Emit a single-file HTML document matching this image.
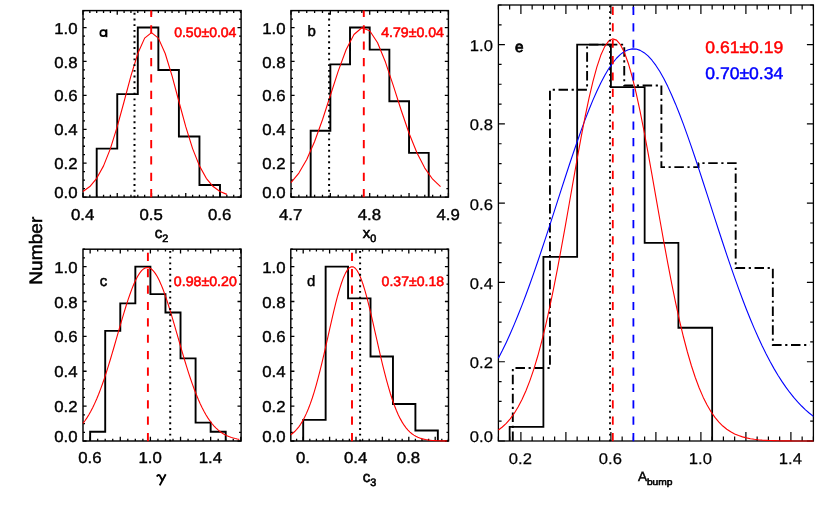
<!DOCTYPE html>
<html><head><meta charset="utf-8"><title>Histograms</title>
<style>html,body{margin:0;padding:0;background:#fff}svg{display:block;will-change:transform}text{text-rendering:geometricPrecision}</style></head>
<body>
<svg width="830" height="519" viewBox="0 0 830 519">
<rect width="830" height="519" fill="#fff"/>
<path d="M83 197.1v-4.2M83 10.6v4.2M89.85 197.1v-2.3M89.85 10.6v2.3M96.7 197.1v-2.3M96.7 10.6v2.3M103.55 197.1v-2.3M103.55 10.6v2.3M110.4 197.1v-2.3M110.4 10.6v2.3M117.25 197.1v-4.2M117.25 10.6v4.2M124.1 197.1v-2.3M124.1 10.6v2.3M130.95 197.1v-2.3M130.95 10.6v2.3M137.8 197.1v-2.3M137.8 10.6v2.3M144.65 197.1v-2.3M144.65 10.6v2.3M151.5 197.1v-4.2M151.5 10.6v4.2M158.35 197.1v-2.3M158.35 10.6v2.3M165.2 197.1v-2.3M165.2 10.6v2.3M172.05 197.1v-2.3M172.05 10.6v2.3M178.9 197.1v-2.3M178.9 10.6v2.3M185.75 197.1v-4.2M185.75 10.6v4.2M192.6 197.1v-2.3M192.6 10.6v2.3M199.45 197.1v-2.3M199.45 10.6v2.3M206.3 197.1v-2.3M206.3 10.6v2.3M213.15 197.1v-2.3M213.15 10.6v2.3M220 197.1v-4.2M220 10.6v4.2M226.85 197.1v-2.3M226.85 10.6v2.3M233.7 197.1v-2.3M233.7 10.6v2.3M240.55 197.1v-2.3M240.55 10.6v2.3M83 197.1h3.6M241.1 197.1h-3.6M83 188.62h2.0M241.1 188.62h-2.0M83 180.15h2.0M241.1 180.15h-2.0M83 171.67h2.0M241.1 171.67h-2.0M83 163.19h3.6M241.1 163.19h-3.6M83 154.71h2.0M241.1 154.71h-2.0M83 146.24h2.0M241.1 146.24h-2.0M83 137.76h2.0M241.1 137.76h-2.0M83 129.28h3.6M241.1 129.28h-3.6M83 120.8h2.0M241.1 120.8h-2.0M83 112.33h2.0M241.1 112.33h-2.0M83 103.85h2.0M241.1 103.85h-2.0M83 95.37h3.6M241.1 95.37h-3.6M83 86.9h2.0M241.1 86.9h-2.0M83 78.42h2.0M241.1 78.42h-2.0M83 69.94h2.0M241.1 69.94h-2.0M83 61.46h3.6M241.1 61.46h-3.6M83 52.99h2.0M241.1 52.99h-2.0M83 44.51h2.0M241.1 44.51h-2.0M83 36.03h2.0M241.1 36.03h-2.0M83 27.55h3.6M241.1 27.55h-3.6M83 19.08h2.0M241.1 19.08h-2.0M83 10.6h2.0M241.1 10.6h-2.0" stroke="#000" stroke-width="1.3" fill="none"/>
<rect x="83" y="10.6" width="158.1" height="186.5" fill="none" stroke="#000" stroke-width="1.45"/>
<path d="M291 197.1v-4.2M291 10.6v4.2M298.87 197.1v-2.3M298.87 10.6v2.3M306.74 197.1v-2.3M306.74 10.6v2.3M314.61 197.1v-2.3M314.61 10.6v2.3M322.48 197.1v-2.3M322.48 10.6v2.3M330.35 197.1v-4.2M330.35 10.6v4.2M338.22 197.1v-2.3M338.22 10.6v2.3M346.09 197.1v-2.3M346.09 10.6v2.3M353.96 197.1v-2.3M353.96 10.6v2.3M361.83 197.1v-2.3M361.83 10.6v2.3M369.7 197.1v-4.2M369.7 10.6v4.2M377.57 197.1v-2.3M377.57 10.6v2.3M385.44 197.1v-2.3M385.44 10.6v2.3M393.31 197.1v-2.3M393.31 10.6v2.3M401.18 197.1v-2.3M401.18 10.6v2.3M409.05 197.1v-4.2M409.05 10.6v4.2M416.92 197.1v-2.3M416.92 10.6v2.3M424.79 197.1v-2.3M424.79 10.6v2.3M432.66 197.1v-2.3M432.66 10.6v2.3M440.53 197.1v-2.3M440.53 10.6v2.3M448.4 197.1v-4.2M448.4 10.6v4.2M291 197.1h3.6M448.4 197.1h-3.6M291 188.62h2.0M448.4 188.62h-2.0M291 180.15h2.0M448.4 180.15h-2.0M291 171.67h2.0M448.4 171.67h-2.0M291 163.19h3.6M448.4 163.19h-3.6M291 154.71h2.0M448.4 154.71h-2.0M291 146.24h2.0M448.4 146.24h-2.0M291 137.76h2.0M448.4 137.76h-2.0M291 129.28h3.6M448.4 129.28h-3.6M291 120.8h2.0M448.4 120.8h-2.0M291 112.33h2.0M448.4 112.33h-2.0M291 103.85h2.0M448.4 103.85h-2.0M291 95.37h3.6M448.4 95.37h-3.6M291 86.9h2.0M448.4 86.9h-2.0M291 78.42h2.0M448.4 78.42h-2.0M291 69.94h2.0M448.4 69.94h-2.0M291 61.46h3.6M448.4 61.46h-3.6M291 52.99h2.0M448.4 52.99h-2.0M291 44.51h2.0M448.4 44.51h-2.0M291 36.03h2.0M448.4 36.03h-2.0M291 27.55h3.6M448.4 27.55h-3.6M291 19.08h2.0M448.4 19.08h-2.0M291 10.6h2.0M448.4 10.6h-2.0" stroke="#000" stroke-width="1.3" fill="none"/>
<rect x="291" y="10.6" width="157.4" height="186.5" fill="none" stroke="#000" stroke-width="1.45"/>
<path d="M90.15 441v-4.2M90.15 249.2v4.2M97.68 441v-2.3M97.68 249.2v2.3M105.21 441v-2.3M105.21 249.2v2.3M112.74 441v-2.3M112.74 249.2v2.3M120.28 441v-4.2M120.28 249.2v4.2M127.81 441v-2.3M127.81 249.2v2.3M135.34 441v-2.3M135.34 249.2v2.3M142.87 441v-2.3M142.87 249.2v2.3M150.4 441v-4.2M150.4 249.2v4.2M157.93 441v-2.3M157.93 249.2v2.3M165.46 441v-2.3M165.46 249.2v2.3M172.99 441v-2.3M172.99 249.2v2.3M180.53 441v-4.2M180.53 249.2v4.2M188.06 441v-2.3M188.06 249.2v2.3M195.59 441v-2.3M195.59 249.2v2.3M203.12 441v-2.3M203.12 249.2v2.3M210.65 441v-4.2M210.65 249.2v4.2M218.18 441v-2.3M218.18 249.2v2.3M225.71 441v-2.3M225.71 249.2v2.3M233.24 441v-2.3M233.24 249.2v2.3M240.78 441v-4.2M240.78 249.2v4.2M83 441h3.6M241.1 441h-3.6M83 432.28h2.0M241.1 432.28h-2.0M83 423.56h2.0M241.1 423.56h-2.0M83 414.85h2.0M241.1 414.85h-2.0M83 406.13h3.6M241.1 406.13h-3.6M83 397.41h2.0M241.1 397.41h-2.0M83 388.69h2.0M241.1 388.69h-2.0M83 379.97h2.0M241.1 379.97h-2.0M83 371.25h3.6M241.1 371.25h-3.6M83 362.54h2.0M241.1 362.54h-2.0M83 353.82h2.0M241.1 353.82h-2.0M83 345.1h2.0M241.1 345.1h-2.0M83 336.38h3.6M241.1 336.38h-3.6M83 327.66h2.0M241.1 327.66h-2.0M83 318.95h2.0M241.1 318.95h-2.0M83 310.23h2.0M241.1 310.23h-2.0M83 301.51h3.6M241.1 301.51h-3.6M83 292.79h2.0M241.1 292.79h-2.0M83 284.07h2.0M241.1 284.07h-2.0M83 275.35h2.0M241.1 275.35h-2.0M83 266.64h3.6M241.1 266.64h-3.6M83 257.92h2.0M241.1 257.92h-2.0M83 249.2h2.0M241.1 249.2h-2.0" stroke="#000" stroke-width="1.3" fill="none"/>
<rect x="83" y="249.2" width="158.1" height="191.8" fill="none" stroke="#000" stroke-width="1.45"/>
<path d="M296.6 441v-2.3M296.6 249.2v2.3M303.2 441v-4.2M303.2 249.2v4.2M309.8 441v-2.3M309.8 249.2v2.3M316.4 441v-2.3M316.4 249.2v2.3M323 441v-2.3M323 249.2v2.3M329.6 441v-4.2M329.6 249.2v4.2M336.2 441v-2.3M336.2 249.2v2.3M342.8 441v-2.3M342.8 249.2v2.3M349.4 441v-2.3M349.4 249.2v2.3M356 441v-4.2M356 249.2v4.2M362.6 441v-2.3M362.6 249.2v2.3M369.2 441v-2.3M369.2 249.2v2.3M375.8 441v-2.3M375.8 249.2v2.3M382.4 441v-4.2M382.4 249.2v4.2M389 441v-2.3M389 249.2v2.3M395.6 441v-2.3M395.6 249.2v2.3M402.2 441v-2.3M402.2 249.2v2.3M408.8 441v-4.2M408.8 249.2v4.2M415.4 441v-2.3M415.4 249.2v2.3M422 441v-2.3M422 249.2v2.3M428.6 441v-2.3M428.6 249.2v2.3M435.2 441v-4.2M435.2 249.2v4.2M441.8 441v-2.3M441.8 249.2v2.3M448.4 441v-2.3M448.4 249.2v2.3M290.8 441h3.6M448.5 441h-3.6M290.8 432.28h2.0M448.5 432.28h-2.0M290.8 423.56h2.0M448.5 423.56h-2.0M290.8 414.85h2.0M448.5 414.85h-2.0M290.8 406.13h3.6M448.5 406.13h-3.6M290.8 397.41h2.0M448.5 397.41h-2.0M290.8 388.69h2.0M448.5 388.69h-2.0M290.8 379.97h2.0M448.5 379.97h-2.0M290.8 371.25h3.6M448.5 371.25h-3.6M290.8 362.54h2.0M448.5 362.54h-2.0M290.8 353.82h2.0M448.5 353.82h-2.0M290.8 345.1h2.0M448.5 345.1h-2.0M290.8 336.38h3.6M448.5 336.38h-3.6M290.8 327.66h2.0M448.5 327.66h-2.0M290.8 318.95h2.0M448.5 318.95h-2.0M290.8 310.23h2.0M448.5 310.23h-2.0M290.8 301.51h3.6M448.5 301.51h-3.6M290.8 292.79h2.0M448.5 292.79h-2.0M290.8 284.07h2.0M448.5 284.07h-2.0M290.8 275.35h2.0M448.5 275.35h-2.0M290.8 266.64h3.6M448.5 266.64h-3.6M290.8 257.92h2.0M448.5 257.92h-2.0M290.8 249.2h2.0M448.5 249.2h-2.0" stroke="#000" stroke-width="1.3" fill="none"/>
<rect x="290.8" y="249.2" width="157.7" height="191.8" fill="none" stroke="#000" stroke-width="1.45"/>
<path d="M498.4 441v-4.5M498.4 5v4.5M509.65 441v-4.5M509.65 5v4.5M520.9 441v-9M520.9 5v9M532.15 441v-4.5M532.15 5v4.5M543.4 441v-4.5M543.4 5v4.5M554.65 441v-4.5M554.65 5v4.5M565.9 441v-9M565.9 5v9M577.15 441v-4.5M577.15 5v4.5M588.4 441v-4.5M588.4 5v4.5M599.65 441v-4.5M599.65 5v4.5M610.9 441v-9M610.9 5v9M622.15 441v-4.5M622.15 5v4.5M633.4 441v-4.5M633.4 5v4.5M644.65 441v-4.5M644.65 5v4.5M655.9 441v-9M655.9 5v9M667.15 441v-4.5M667.15 5v4.5M678.4 441v-4.5M678.4 5v4.5M689.65 441v-4.5M689.65 5v4.5M700.9 441v-9M700.9 5v9M712.15 441v-4.5M712.15 5v4.5M723.4 441v-4.5M723.4 5v4.5M734.65 441v-4.5M734.65 5v4.5M745.9 441v-9M745.9 5v9M757.15 441v-4.5M757.15 5v4.5M768.4 441v-4.5M768.4 5v4.5M779.65 441v-4.5M779.65 5v4.5M790.9 441v-9M790.9 5v9M802.15 441v-4.5M802.15 5v4.5M813.4 441v-4.5M813.4 5v4.5M498.4 441h6.5M813.4 441h-6.5M498.4 421.18h3.2M813.4 421.18h-3.2M498.4 401.36h3.2M813.4 401.36h-3.2M498.4 381.55h3.2M813.4 381.55h-3.2M498.4 361.73h6.5M813.4 361.73h-6.5M498.4 341.91h3.2M813.4 341.91h-3.2M498.4 322.09h3.2M813.4 322.09h-3.2M498.4 302.27h3.2M813.4 302.27h-3.2M498.4 282.45h6.5M813.4 282.45h-6.5M498.4 262.64h3.2M813.4 262.64h-3.2M498.4 242.82h3.2M813.4 242.82h-3.2M498.4 223h3.2M813.4 223h-3.2M498.4 203.18h6.5M813.4 203.18h-6.5M498.4 183.36h3.2M813.4 183.36h-3.2M498.4 163.55h3.2M813.4 163.55h-3.2M498.4 143.73h3.2M813.4 143.73h-3.2M498.4 123.91h6.5M813.4 123.91h-6.5M498.4 104.09h3.2M813.4 104.09h-3.2M498.4 84.27h3.2M813.4 84.27h-3.2M498.4 64.45h3.2M813.4 64.45h-3.2M498.4 44.64h6.5M813.4 44.64h-6.5M498.4 24.82h3.2M813.4 24.82h-3.2M498.4 5h3.2M813.4 5h-3.2" stroke="#000" stroke-width="1.2" fill="none"/>
<rect x="498.4" y="5" width="315" height="436" fill="none" stroke="#000" stroke-width="1.3"/>
<path d="M96.7 197.1L96.7 148.66L117.25 148.66L117.25 94.16L137.8 94.16L137.8 27.55L158.35 27.55L158.35 69.94L178.9 69.94L178.9 136.55L199.45 136.55L199.45 184.99L220 184.99L220 197.1" stroke="#000" stroke-width="1.9" fill="none" stroke-linejoin="miter"/>
<path d="M83 191.56L89.85 186.55L96.7 178.33L103.55 165.88L110.4 148.58L117.25 126.65L124.1 101.5L130.95 75.89L137.8 53.5L144.65 38.12L151.5 32.64L158.35 38.12L165.2 53.5L172.05 75.89L178.9 101.5L185.75 126.65L192.6 148.58L199.45 165.88L206.3 178.33L213.15 186.55L220 191.56L226.85 194.38" stroke="#ff0000" stroke-width="1.1" fill="none" stroke-linejoin="round"/>
<path d="M134.5 197.4V10.6" stroke="#000" stroke-width="2.0" stroke-dasharray="1.9 3.81" fill="none"/>
<path d="M151.2 197.3V10.6" stroke="#ff0000" stroke-width="1.9" stroke-dasharray="8.2 8.19" fill="none"/>
<path d="M310.67 197.1L310.67 130.76L330.35 130.76L330.35 64.41L350.02 64.41L350.02 27.55L369.7 27.55L369.7 49.67L389.37 49.67L389.37 101.27L409.05 101.27L409.05 152.87L428.72 152.87L428.72 197.1" stroke="#000" stroke-width="1.9" fill="none" stroke-linejoin="miter"/>
<path d="M291 182.58L298.87 173.03L306.74 159.46L314.61 141.56L322.48 119.77L330.35 95.5L338.22 71.16L346.09 49.78L353.96 34.5L361.83 27.75L369.7 30.68L377.57 42.78L385.44 62.07L393.31 85.61L401.18 110.25L409.05 133.25L416.92 152.81L424.79 168.11L432.66 179.2L440.53 186.67" stroke="#ff0000" stroke-width="1.1" fill="none" stroke-linejoin="round"/>
<path d="M329.1 197.4V10.6" stroke="#000" stroke-width="2.0" stroke-dasharray="1.9 3.81" fill="none"/>
<path d="M363.8 197.3V10.6" stroke="#ff0000" stroke-width="1.9" stroke-dasharray="8.2 8.19" fill="none"/>
<path d="M90.15 441L90.15 431.82L105.21 431.82L105.21 330.88L120.28 330.88L120.28 303.34L135.34 303.34L135.34 266.64L150.4 266.64L150.4 294.17L165.46 294.17L165.46 312.52L180.53 312.52L180.53 358.41L195.59 358.41L195.59 422.65L210.65 422.65L210.65 431.82L225.71 431.82L225.71 441" stroke="#000" stroke-width="1.9" fill="none" stroke-linejoin="miter"/>
<path d="M83 423.33L84.95 420.74L86.91 417.88L88.86 414.72L90.81 411.25L92.77 407.47L94.72 403.37L96.67 398.94L98.63 394.19L100.58 389.11L102.53 383.74L104.49 378.06L106.44 372.12L108.39 365.93L110.35 359.53L112.3 352.96L114.25 346.25L116.21 339.46L118.16 332.64L120.11 325.84L122.07 319.14L124.02 312.58L125.97 306.24L127.93 300.18L129.88 294.46L131.83 289.16L133.79 284.32L135.74 280L137.69 276.26L139.65 273.14L141.6 270.68L143.55 268.91L145.51 267.85L147.46 267.51L149.41 267.9L151.37 269.02L153.32 270.84L155.27 273.35L157.23 276.52L159.18 280.31L161.13 284.66L163.09 289.54L165.04 294.88L166.99 300.62L168.95 306.71L170.9 313.07L172.85 319.64L174.81 326.35L176.76 333.15L178.71 339.97L180.67 346.75L182.62 353.45L184.57 360.02L186.53 366.4L188.48 372.58L190.43 378.5L192.39 384.15L194.34 389.51L196.29 394.55L198.25 399.28L200.2 403.69L202.15 407.77L204.11 411.52L206.06 414.97L208.02 418.1L209.97 420.95L211.92 423.51L213.88 425.81L215.83 427.86L217.78 429.69L219.74 431.3L221.69 432.71L223.64 433.95L225.6 435.03L227.55 435.97L229.5 436.77L231.46 437.47L233.41 438.06L235.36 438.56L237.32 438.99L239.27 439.34" stroke="#ff0000" stroke-width="1.1" fill="none" stroke-linejoin="round"/>
<path d="M170.2 441.3V249.2" stroke="#000" stroke-width="2.0" stroke-dasharray="1.9 3.81" fill="none"/>
<path d="M147.9 441.2V249.2" stroke="#ff0000" stroke-width="1.9" stroke-dasharray="8.2 8.19" fill="none"/>
<path d="M303.2 441L303.2 419.87L325.64 419.87L325.64 266.64L348.08 266.64L348.08 298.34L370.52 298.34L370.52 356.46L392.96 356.46L392.96 404.01L415.4 404.01L415.4 430.43L437.84 430.43L437.84 441" stroke="#000" stroke-width="1.9" fill="none" stroke-linejoin="miter"/>
<path d="M290.8 434.71L292.75 433.25L294.71 431.51L296.66 429.47L298.61 427.08L300.57 424.31L302.52 421.13L304.47 417.49L306.43 413.38L308.38 408.77L310.34 403.64L312.29 397.98L314.24 391.81L316.2 385.12L318.15 377.95L320.1 370.35L322.06 362.36L324.01 354.06L325.96 345.52L327.92 336.86L329.87 328.18L331.82 319.59L333.78 311.23L335.73 303.23L337.68 295.73L339.64 288.84L341.59 282.71L343.54 277.43L345.5 273.12L347.45 269.86L349.41 267.71L351.36 266.71L353.31 266.89L355.27 268.24L357.22 270.73L359.17 274.32L361.13 278.93L363.08 284.48L365.03 290.85L366.99 297.94L368.94 305.61L370.89 313.73L372.85 322.17L374.8 330.8L376.75 339.49L378.71 348.12L380.66 356.59L382.61 364.81L384.57 372.69L386.52 380.17L388.48 387.19L390.43 393.73L392.38 399.75L394.34 405.24L396.29 410.22L398.24 414.68L400.2 418.64L402.15 422.14L404.1 425.19L406.06 427.84L408.01 430.12L409.96 432.07L411.92 433.72L413.87 435.1L415.82 436.25L417.78 437.2L419.73 437.99L421.68 438.62L423.64 439.14L425.59 439.55L427.55 439.88L429.5 440.14L431.45 440.35L433.41 440.5L435.36 440.63L437.31 440.72L439.27 440.79L441.22 440.85L443.17 440.89L445.13 440.92L447.08 440.94" stroke="#ff0000" stroke-width="1.1" fill="none" stroke-linejoin="round"/>
<path d="M360.1 441.3V249.2" stroke="#000" stroke-width="2.0" stroke-dasharray="1.9 3.81" fill="none"/>
<path d="M352 441.2V249.2" stroke="#ff0000" stroke-width="1.9" stroke-dasharray="8.2 8.19" fill="none"/>
<clipPath id="ce"><rect x="498.4" y="5.1" width="315" height="435.9"/></clipPath>
<g clip-path="url(#ce)">
<path d="M512.8 441L512.8 368.07L549.95 368.07L549.95 89.82L587.1 89.82L587.1 44.64L624.24 44.64L624.24 85.46L661.39 85.46L661.39 167.11L698.54 167.11L698.54 163.15L735.68 163.15L735.68 268.03L772.83 268.03L772.83 344.96L809.98 344.96" stroke="#000" stroke-width="1.9" fill="none" stroke-linejoin="miter" stroke-dasharray="9.5 3.6 2.2 3.6"/>
</g>
<path d="M509.65 441L509.65 426.84L543.4 426.84L543.4 256.97L577.15 256.97L577.15 44.64L610.9 44.64L610.9 87.1L644.65 87.1L644.65 242.82L678.4 242.82L678.4 327.75L712.15 327.75L712.15 441" stroke="#000" stroke-width="1.8" fill="none" stroke-linejoin="miter"/>
<path d="M498.4 358.35L502.34 350.61L506.27 342.41L510.21 333.75L514.15 324.64L518.09 315.08L522.02 305.11L525.96 294.72L529.9 283.97L533.84 272.87L537.77 261.46L541.71 249.78L545.65 237.88L549.59 225.81L553.52 213.63L557.46 201.39L561.4 189.17L565.34 177.02L569.27 165.01L573.21 153.23L577.15 141.73L581.09 130.6L585.02 119.9L588.96 109.72L592.9 100.12L596.84 91.17L600.77 82.93L604.71 75.46L608.65 68.83L612.59 63.09L616.52 58.26L620.46 54.41L624.4 51.54L628.34 49.7L632.27 48.88L636.21 49.1L640.15 50.36L644.09 52.65L648.02 55.94L651.96 60.21L655.9 65.44L659.84 71.57L663.78 78.56L667.71 86.37L671.65 94.92L675.59 104.16L679.52 114.02L683.46 124.43L687.4 135.32L691.34 146.62L695.28 158.25L699.21 170.13L703.15 182.21L707.09 194.4L711.03 206.64L714.96 218.86L718.9 231L722.84 243L726.78 254.81L730.71 266.38L734.65 277.66L738.59 288.62L742.53 299.22L746.46 309.43L750.4 319.23L754.34 328.6L758.28 337.52L762.21 345.98L766.15 353.99L770.09 361.53L774.03 368.61L777.96 375.23L781.9 381.4L785.84 387.14L789.78 392.46L793.71 397.36L797.65 401.88L801.59 406.02L805.53 409.8L809.46 413.25L813.4 416.38" stroke="#0000ff" stroke-width="1.1" fill="none" stroke-linejoin="round"/>
<path d="M498.4 430.04L502.34 427.02L506.27 423.33L510.21 418.85L514.15 413.47L518.09 407.07L522.02 399.53L525.96 390.75L529.9 380.62L533.84 369.06L537.77 356.02L541.71 341.45L545.65 325.38L549.59 307.85L553.52 288.95L557.46 268.84L561.4 247.72L565.34 225.84L569.27 203.5L573.21 181.06L577.15 158.9L581.09 137.44L585.02 117.11L588.96 98.33L592.9 81.53L596.84 67.09L600.77 55.35L604.71 46.61L608.65 41.07L612.59 38.88L616.52 40.1L620.46 44.69L624.4 52.54L628.34 63.44L632.27 77.14L636.21 93.31L640.15 111.56L644.09 131.5L648.02 152.68L651.96 174.68L655.9 197.08L659.84 219.49L663.78 241.53L667.71 262.9L671.65 283.32L675.59 302.58L679.52 320.52L683.46 337.01L687.4 352.01L691.34 365.49L695.28 377.46L699.21 387.99L703.15 397.15L707.09 405.03L711.03 411.75L714.96 417.41L718.9 422.14L722.84 426.04L726.78 429.24L730.71 431.83L734.65 433.91L738.59 435.57L742.53 436.87L746.46 437.89L750.4 438.68L754.34 439.28L758.28 439.74L762.21 440.08L766.15 440.33L770.09 440.52L774.03 440.66L777.96 440.76L781.9 440.83L785.84 440.88L789.78 440.92L793.71 440.95L797.65 440.96L801.59 440.98L805.53 440.98L809.46 440.99L813.4 440.99" stroke="#ff0000" stroke-width="1.1" fill="none" stroke-linejoin="round"/>
<path d="M610 441.3V5" stroke="#000" stroke-width="1.8" stroke-dasharray="1.9 3.81" fill="none"/>
<path d="M612.8 441.2V5" stroke="#ff0000" stroke-width="1.8" stroke-dasharray="8.2 8.19" fill="none"/>
<path d="M633.4 441.2V5" stroke="#0000ff" stroke-width="1.8" stroke-dasharray="8.2 8.19" fill="none"/>
<text transform="translate(77.6 197.9) scale(1.07 1)" font-family="Liberation Sans, sans-serif" font-size="15.7" font-weight="normal" text-anchor="end" fill="#000" stroke="#000" stroke-width="0.4">0.0</text>
<text transform="translate(77.6 169.29) scale(1.07 1)" font-family="Liberation Sans, sans-serif" font-size="15.7" font-weight="normal" text-anchor="end" fill="#000" stroke="#000" stroke-width="0.4">0.2</text>
<text transform="translate(77.6 135.38) scale(1.07 1)" font-family="Liberation Sans, sans-serif" font-size="15.7" font-weight="normal" text-anchor="end" fill="#000" stroke="#000" stroke-width="0.4">0.4</text>
<text transform="translate(77.6 101.47) scale(1.07 1)" font-family="Liberation Sans, sans-serif" font-size="15.7" font-weight="normal" text-anchor="end" fill="#000" stroke="#000" stroke-width="0.4">0.6</text>
<text transform="translate(77.6 67.56) scale(1.07 1)" font-family="Liberation Sans, sans-serif" font-size="15.7" font-weight="normal" text-anchor="end" fill="#000" stroke="#000" stroke-width="0.4">0.8</text>
<text transform="translate(77.6 33.65) scale(1.07 1)" font-family="Liberation Sans, sans-serif" font-size="15.7" font-weight="normal" text-anchor="end" fill="#000" stroke="#000" stroke-width="0.4">1.0</text>
<text transform="translate(285.6 197.9) scale(1.07 1)" font-family="Liberation Sans, sans-serif" font-size="15.7" font-weight="normal" text-anchor="end" fill="#000" stroke="#000" stroke-width="0.4">0.0</text>
<text transform="translate(285.6 169.29) scale(1.07 1)" font-family="Liberation Sans, sans-serif" font-size="15.7" font-weight="normal" text-anchor="end" fill="#000" stroke="#000" stroke-width="0.4">0.2</text>
<text transform="translate(285.6 135.38) scale(1.07 1)" font-family="Liberation Sans, sans-serif" font-size="15.7" font-weight="normal" text-anchor="end" fill="#000" stroke="#000" stroke-width="0.4">0.4</text>
<text transform="translate(285.6 101.47) scale(1.07 1)" font-family="Liberation Sans, sans-serif" font-size="15.7" font-weight="normal" text-anchor="end" fill="#000" stroke="#000" stroke-width="0.4">0.6</text>
<text transform="translate(285.6 67.56) scale(1.07 1)" font-family="Liberation Sans, sans-serif" font-size="15.7" font-weight="normal" text-anchor="end" fill="#000" stroke="#000" stroke-width="0.4">0.8</text>
<text transform="translate(285.6 33.65) scale(1.07 1)" font-family="Liberation Sans, sans-serif" font-size="15.7" font-weight="normal" text-anchor="end" fill="#000" stroke="#000" stroke-width="0.4">1.0</text>
<text transform="translate(77.6 441.8) scale(1.07 1)" font-family="Liberation Sans, sans-serif" font-size="15.7" font-weight="normal" text-anchor="end" fill="#000" stroke="#000" stroke-width="0.4">0.0</text>
<text transform="translate(77.6 412.23) scale(1.07 1)" font-family="Liberation Sans, sans-serif" font-size="15.7" font-weight="normal" text-anchor="end" fill="#000" stroke="#000" stroke-width="0.4">0.2</text>
<text transform="translate(77.6 377.35) scale(1.07 1)" font-family="Liberation Sans, sans-serif" font-size="15.7" font-weight="normal" text-anchor="end" fill="#000" stroke="#000" stroke-width="0.4">0.4</text>
<text transform="translate(77.6 342.48) scale(1.07 1)" font-family="Liberation Sans, sans-serif" font-size="15.7" font-weight="normal" text-anchor="end" fill="#000" stroke="#000" stroke-width="0.4">0.6</text>
<text transform="translate(77.6 307.61) scale(1.07 1)" font-family="Liberation Sans, sans-serif" font-size="15.7" font-weight="normal" text-anchor="end" fill="#000" stroke="#000" stroke-width="0.4">0.8</text>
<text transform="translate(77.6 272.74) scale(1.07 1)" font-family="Liberation Sans, sans-serif" font-size="15.7" font-weight="normal" text-anchor="end" fill="#000" stroke="#000" stroke-width="0.4">1.0</text>
<text transform="translate(285.6 441.8) scale(1.07 1)" font-family="Liberation Sans, sans-serif" font-size="15.7" font-weight="normal" text-anchor="end" fill="#000" stroke="#000" stroke-width="0.4">0.0</text>
<text transform="translate(285.6 412.23) scale(1.07 1)" font-family="Liberation Sans, sans-serif" font-size="15.7" font-weight="normal" text-anchor="end" fill="#000" stroke="#000" stroke-width="0.4">0.2</text>
<text transform="translate(285.6 377.35) scale(1.07 1)" font-family="Liberation Sans, sans-serif" font-size="15.7" font-weight="normal" text-anchor="end" fill="#000" stroke="#000" stroke-width="0.4">0.4</text>
<text transform="translate(285.6 342.48) scale(1.07 1)" font-family="Liberation Sans, sans-serif" font-size="15.7" font-weight="normal" text-anchor="end" fill="#000" stroke="#000" stroke-width="0.4">0.6</text>
<text transform="translate(285.6 307.61) scale(1.07 1)" font-family="Liberation Sans, sans-serif" font-size="15.7" font-weight="normal" text-anchor="end" fill="#000" stroke="#000" stroke-width="0.4">0.8</text>
<text transform="translate(285.6 272.74) scale(1.07 1)" font-family="Liberation Sans, sans-serif" font-size="15.7" font-weight="normal" text-anchor="end" fill="#000" stroke="#000" stroke-width="0.4">1.0</text>
<text transform="translate(82.7 219.5) scale(1.07 1)" font-family="Liberation Sans, sans-serif" font-size="15.7" font-weight="normal" text-anchor="middle" fill="#000" stroke="#000" stroke-width="0.4">0.4</text>
<text transform="translate(151.2 219.5) scale(1.07 1)" font-family="Liberation Sans, sans-serif" font-size="15.7" font-weight="normal" text-anchor="middle" fill="#000" stroke="#000" stroke-width="0.4">0.5</text>
<text transform="translate(219.7 219.5) scale(1.07 1)" font-family="Liberation Sans, sans-serif" font-size="15.7" font-weight="normal" text-anchor="middle" fill="#000" stroke="#000" stroke-width="0.4">0.6</text>
<text transform="translate(290.7 219.5) scale(1.07 1)" font-family="Liberation Sans, sans-serif" font-size="15.7" font-weight="normal" text-anchor="middle" fill="#000" stroke="#000" stroke-width="0.4">4.7</text>
<text transform="translate(369.4 219.5) scale(1.07 1)" font-family="Liberation Sans, sans-serif" font-size="15.7" font-weight="normal" text-anchor="middle" fill="#000" stroke="#000" stroke-width="0.4">4.8</text>
<text transform="translate(448.1 219.5) scale(1.07 1)" font-family="Liberation Sans, sans-serif" font-size="15.7" font-weight="normal" text-anchor="middle" fill="#000" stroke="#000" stroke-width="0.4">4.9</text>
<text transform="translate(89.85 463.4) scale(1.07 1)" font-family="Liberation Sans, sans-serif" font-size="15.7" font-weight="normal" text-anchor="middle" fill="#000" stroke="#000" stroke-width="0.4">0.6</text>
<text transform="translate(150.1 463.4) scale(1.07 1)" font-family="Liberation Sans, sans-serif" font-size="15.7" font-weight="normal" text-anchor="middle" fill="#000" stroke="#000" stroke-width="0.4">1.0</text>
<text transform="translate(210.35 463.4) scale(1.07 1)" font-family="Liberation Sans, sans-serif" font-size="15.7" font-weight="normal" text-anchor="middle" fill="#000" stroke="#000" stroke-width="0.4">1.4</text>
<text transform="translate(302.9 463.4) scale(1.07 1)" font-family="Liberation Sans, sans-serif" font-size="15.7" font-weight="normal" text-anchor="middle" fill="#000" stroke="#000" stroke-width="0.4">0.</text>
<text transform="translate(355.7 463.4) scale(1.07 1)" font-family="Liberation Sans, sans-serif" font-size="15.7" font-weight="normal" text-anchor="middle" fill="#000" stroke="#000" stroke-width="0.4">0.4</text>
<text transform="translate(408.5 463.4) scale(1.07 1)" font-family="Liberation Sans, sans-serif" font-size="15.7" font-weight="normal" text-anchor="middle" fill="#000" stroke="#000" stroke-width="0.4">0.8</text>
<text transform="translate(492.9 441.9) scale(1.07 1)" font-family="Liberation Sans, sans-serif" font-size="15.5" font-weight="normal" text-anchor="end" fill="#000" stroke="#000" stroke-width="0.25">0.0</text>
<text transform="translate(492.9 368.23) scale(1.07 1)" font-family="Liberation Sans, sans-serif" font-size="15.5" font-weight="normal" text-anchor="end" fill="#000" stroke="#000" stroke-width="0.25">0.2</text>
<text transform="translate(492.9 288.95) scale(1.07 1)" font-family="Liberation Sans, sans-serif" font-size="15.5" font-weight="normal" text-anchor="end" fill="#000" stroke="#000" stroke-width="0.25">0.4</text>
<text transform="translate(492.9 209.68) scale(1.07 1)" font-family="Liberation Sans, sans-serif" font-size="15.5" font-weight="normal" text-anchor="end" fill="#000" stroke="#000" stroke-width="0.25">0.6</text>
<text transform="translate(492.9 130.41) scale(1.07 1)" font-family="Liberation Sans, sans-serif" font-size="15.5" font-weight="normal" text-anchor="end" fill="#000" stroke="#000" stroke-width="0.25">0.8</text>
<text transform="translate(492.9 51.14) scale(1.07 1)" font-family="Liberation Sans, sans-serif" font-size="15.5" font-weight="normal" text-anchor="end" fill="#000" stroke="#000" stroke-width="0.25">1.0</text>
<text transform="translate(520.4 463.5) scale(1.07 1)" font-family="Liberation Sans, sans-serif" font-size="15.5" font-weight="normal" text-anchor="middle" fill="#000" stroke="#000" stroke-width="0.25">0.2</text>
<text transform="translate(610.4 463.5) scale(1.07 1)" font-family="Liberation Sans, sans-serif" font-size="15.5" font-weight="normal" text-anchor="middle" fill="#000" stroke="#000" stroke-width="0.25">0.6</text>
<text transform="translate(700.4 463.5) scale(1.07 1)" font-family="Liberation Sans, sans-serif" font-size="15.5" font-weight="normal" text-anchor="middle" fill="#000" stroke="#000" stroke-width="0.25">1.0</text>
<text transform="translate(790.4 463.5) scale(1.07 1)" font-family="Liberation Sans, sans-serif" font-size="15.5" font-weight="normal" text-anchor="middle" fill="#000" stroke="#000" stroke-width="0.25">1.4</text>
<circle cx="103.3" cy="33.2" r="3.0" fill="none" stroke="#000" stroke-width="1.7"/><path d="M106.5 29.3V37.2" stroke="#000" stroke-width="1.7"/>
<text x="307.5" y="36.3" font-family="Liberation Sans, sans-serif" font-size="15" font-weight="normal" text-anchor="start" fill="#000" stroke="#000" stroke-width="0.5">b</text>
<text x="99.8" y="285.8" font-family="Liberation Sans, sans-serif" font-size="15" font-weight="normal" text-anchor="start" fill="#000" stroke="#000" stroke-width="0.5">c</text>
<text x="307" y="286" font-family="Liberation Sans, sans-serif" font-size="15" font-weight="normal" text-anchor="start" fill="#000" stroke="#000" stroke-width="0.4">d</text>
<text x="515" y="52.3" font-family="Liberation Sans, sans-serif" font-size="15.3" font-weight="normal" text-anchor="start" fill="#000" stroke="#000" stroke-width="0.8">e</text>
<text x="174.2" y="37.3" font-family="Liberation Sans, sans-serif" font-size="13.7" font-weight="normal" text-anchor="start" fill="#ff0000" stroke="#ff0000" stroke-width="0.55" textLength="62.2" lengthAdjust="spacingAndGlyphs">0.50±0.04</text>
<text x="381.2" y="37.3" font-family="Liberation Sans, sans-serif" font-size="13.7" font-weight="normal" text-anchor="start" fill="#ff0000" stroke="#ff0000" stroke-width="0.55" textLength="62.8" lengthAdjust="spacingAndGlyphs">4.79±0.04</text>
<text x="173.8" y="285.9" font-family="Liberation Sans, sans-serif" font-size="13.7" font-weight="normal" text-anchor="start" fill="#ff0000" stroke="#ff0000" stroke-width="0.55" textLength="63" lengthAdjust="spacingAndGlyphs">0.98±0.20</text>
<text x="381.6" y="285.9" font-family="Liberation Sans, sans-serif" font-size="13.7" font-weight="normal" text-anchor="start" fill="#ff0000" stroke="#ff0000" stroke-width="0.5" textLength="62.6" lengthAdjust="spacingAndGlyphs">0.37±0.18</text>
<text x="705.3" y="52.6" font-family="Liberation Sans, sans-serif" font-size="16.8" font-weight="normal" text-anchor="start" fill="#ff0000" stroke="#ff0000" stroke-width="0.45" textLength="78" lengthAdjust="spacingAndGlyphs">0.61±0.19</text>
<text x="705.3" y="78.5" font-family="Liberation Sans, sans-serif" font-size="16.8" font-weight="normal" text-anchor="start" fill="#0000ff" stroke="#0000ff" stroke-width="0.45" textLength="78" lengthAdjust="spacingAndGlyphs">0.70±0.34</text>
<text x="161.6" y="238.2" font-family="Liberation Sans, sans-serif" font-size="15" text-anchor="middle" fill="#000" stroke="#000" stroke-width="0.6">c<tspan font-size="10.8" dy="3.8">2</tspan></text>
<text x="369.6" y="237.8" font-family="Liberation Sans, sans-serif" font-size="15" text-anchor="middle" fill="#000" stroke="#000" stroke-width="0.6">x<tspan font-size="10.8" dy="3.8">0</tspan></text>
<path d="M156.9 476.6Q157.9 474.2 159.7 475.4L162.8 481.2M165.7 474.3L159.7 485.4" fill="none" stroke="#000" stroke-width="1.9" stroke-linejoin="round"/>
<text x="369.6" y="482" font-family="Liberation Sans, sans-serif" font-size="15" text-anchor="middle" fill="#000" stroke="#000" stroke-width="0.6">c<tspan font-size="10.8" dy="3.8">3</tspan></text>
<text x="638" y="481.3" font-family="Liberation Sans, sans-serif" font-size="13.6" font-weight="normal" text-anchor="start" fill="#000" stroke="#000" stroke-width="0.45">A</text>
<text x="646.9" y="485.3" font-family="Liberation Sans, sans-serif" font-size="9.0" font-weight="normal" text-anchor="start" fill="#000" stroke="#000" stroke-width="0.55" textLength="25.6" lengthAdjust="spacingAndGlyphs">bump</text>
<text transform="translate(42.2 250.7) rotate(-90)" font-family="Liberation Sans, sans-serif" font-size="18" text-anchor="middle" fill="#000" stroke="#000" stroke-width="0.5" textLength="68" lengthAdjust="spacingAndGlyphs">Number</text>
</svg>
</body></html>
